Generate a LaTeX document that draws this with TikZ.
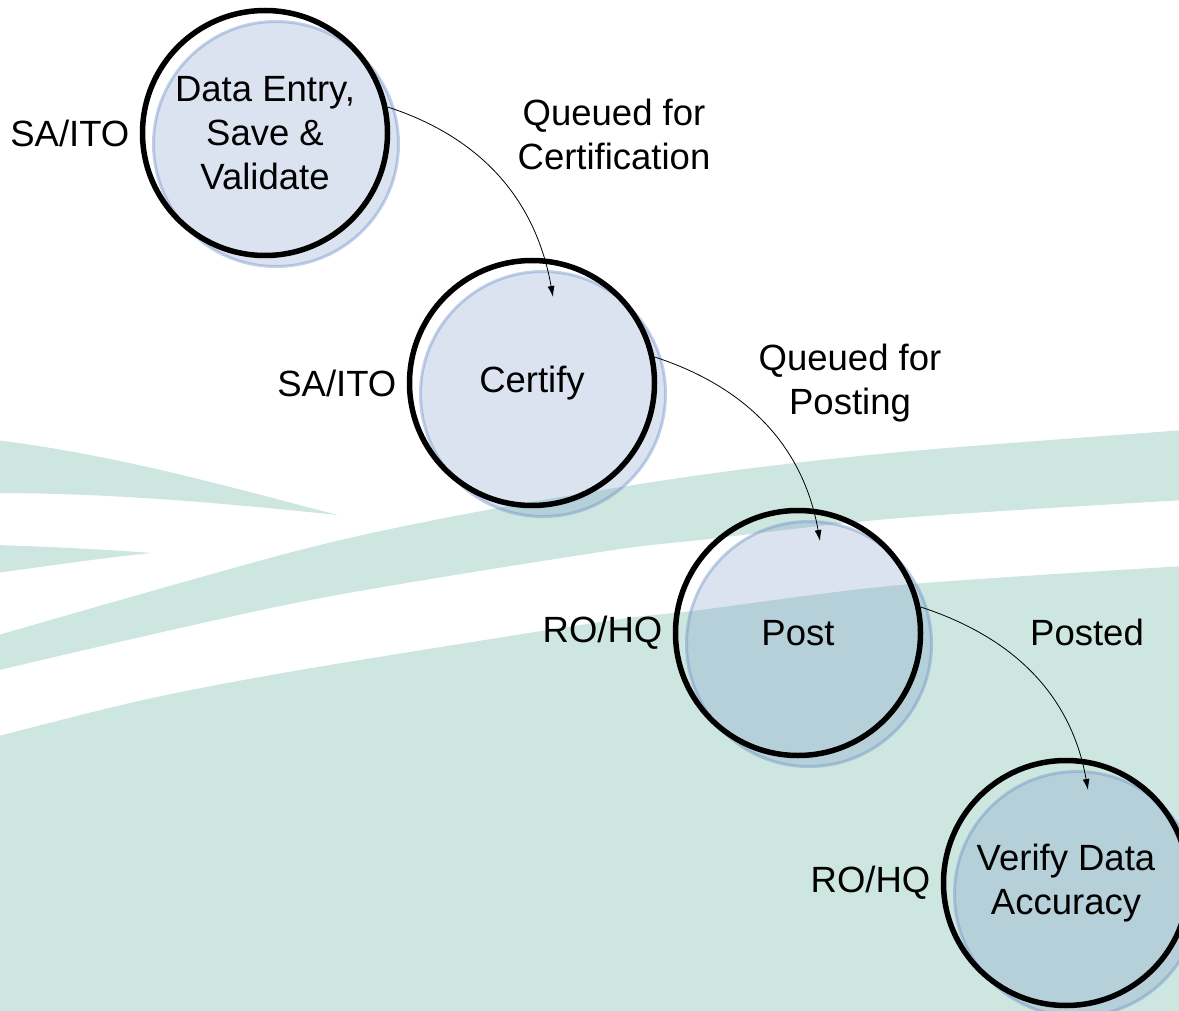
\documentclass[tikz,border=0pt]{standalone}
\usepackage{fontspec}
\setmainfont{Liberation Sans}
\usetikzlibrary{arrows.meta,positioning,shadows}

\definecolor{swoosh}{RGB}{205,230,223}
\definecolor{stagefill}{RGB}{112,144,200}

\begin{document}
\begin{tikzpicture}[x=1pt, y=1pt, thick]

	\tikzstyle{stage}=[circle, draw=black, line width=5.5pt, minimum size=245pt, align=center, font=\fontsize{36.5}{44}\selectfont, general shadow={shadow xshift=11pt, shadow yshift=-11pt, fill=stagefill, fill opacity=0.25, draw=stagefill, draw opacity=0.42, line width=3pt}]
	\tikzstyle{role}=[inner sep=0pt, font=\fontsize{36.5}{44}\selectfont]
	\tikzstyle{flow}=[inner sep=0pt, align=center, font=\fontsize{36.5}{44}\selectfont]
	\tikzstyle{link}=[-{Latex[length=11pt, width=7pt]}, line width=0.8pt]

	\useasboundingbox (0,0) rectangle (1179,-1011);

	% background swoosh
	\fill[swoosh] (-5,-440) .. controls (120,-455) and (240,-490) .. (338,-515) .. controls (240,-505) and (120,-493) .. (-5,-493) -- cycle;
	\fill[swoosh] (-5,-545) .. controls (60,-547) and (110,-550) .. (152,-553) .. controls (100,-558) and (50,-566) .. (-5,-573) -- cycle;
	\fill[swoosh] plot[smooth] coordinates {(-5,-636) (300,-550) (487,-510) (700,-475) (900,-452) (1185,-430)}
		-- plot[smooth] coordinates {(1185,-500) (900,-518) (700,-540) (600,-552) (300,-602) (-5,-671)} -- cycle;
	\fill[swoosh] plot[smooth] coordinates {(-5,-737) (143,-700) (300,-670) (600,-622) (700,-610) (900,-585) (1185,-566)}
		-- (1185,-1015) -- (-5,-1015) -- cycle;

	% stages
	\node[stage] (entry)   at (265,-133)  {Data Entry,\\ Save \&\\ Validate};
	\node[stage] (certify) at (532,-383)  {Certify};
	\node[stage] (post)    at (798,-633)  {Post};
	\node[stage] (verify)  at (1066,-883) {Verify Data\\ Accuracy};

	% who does it
	\node[role, left=10pt of entry]   (entryrole)   {SA/ITO};
	\node[role, left=10pt of certify] (certifyrole) {SA/ITO};
	\node[role, left=10pt of post]    (postrole)    {RO/HQ};
	\node[role, left=10pt of verify]  (verifyrole)  {RO/HQ};

	% status between stages
	\node[flow] (certq)  at (614,-134)  {Queued for\\ Certification};
	\node[flow] (postq)  at (850,-383)  {Queued for\\ Posting};
	\node[flow] (posted) at (1087,-632) {Posted};

	\coordinate (certin)   at ([shift={(21,86)}]certify.center);
	\coordinate (postin)   at ([shift={(22,92)}]post.center);
	\coordinate (verifyin) at ([shift={(22,93)}]verify.center);

	\draw[link] (entry.12)   to[out=-18, in=100] (certin);
	\draw[link] (certify.12) to[out=-18, in=100] (postin);
	\draw[link] (post.12)    to[out=-18, in=100] (verifyin);

\end{tikzpicture}
\end{document}
